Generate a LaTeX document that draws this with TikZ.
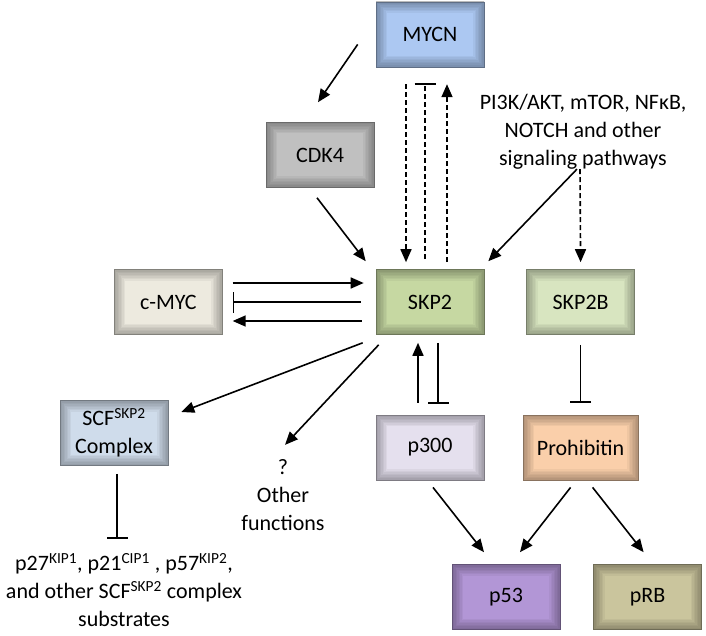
\documentclass[tikz,border=0pt]{standalone}
\usepackage{fontspec}
\setmainfont{Carlito}
\usetikzlibrary{arrows.meta,positioning,calc}

\definecolor{mycncol}{RGB}{172,200,242}
\definecolor{cdkcol}{RGB}{192,192,192}
\definecolor{cmyccol}{RGB}{237,234,223}
\definecolor{skpcol}{RGB}{198,216,162}
\definecolor{skpbcol}{RGB}{216,229,192}
\definecolor{scfcol}{RGB}{207,220,235}
\definecolor{pthreecol}{RGB}{229,224,238}
\definecolor{phbcol}{RGB}{250,207,170}
\definecolor{pfiftycol}{RGB}{178,150,214}
\definecolor{prbcol}{RGB}{202,197,157}

\tikzset{
  gene/.style={rectangle, minimum width=108pt, minimum height=65pt, fill=#1,
    draw=#1!55!black, line width=0.6pt, align=center,
    font=\fontsize{22}{28}\selectfont,
    path picture={\foreach \w in {22,19,...,4}
      {\draw[line width=\w pt, black, opacity=0.045] (path picture bounding box.south west) rectangle (path picture bounding box.north east);}}},
  txt/.style={align=center, font=\fontsize{22}{28}\selectfont},
  act/.style={-{Triangle[length=13pt,width=11pt]}, line width=1.6pt},
  inh/.style={-{Bar[width=21pt]}, line width=1.6pt},
  dashlink/.style={dash pattern=on 5pt off 3pt}
}

\begin{document}
\begin{tikzpicture}[x=1pt, y=-1pt]
    \useasboundingbox (0,0) rectangle (706,636);

    \node (skp2) [gene=skpcol] at (430,302) {SKP2};
    \node (mycn) [gene=mycncol, above=202pt of skp2] {MYCN};
    \node (cdk4) [gene=cdkcol] at (320,155) {CDK4};
    \node (cmyc) [gene=cmyccol, left=153pt of skp2] {c-MYC};
    \node (skp2b) [gene=skpbcol, right=42pt of skp2] {SKP2B};
    \node (p300) [gene=pthreecol, below=80pt of skp2] {p300};
    \node (phb) [gene=phbcol, minimum width=115pt, below=80pt of skp2b] {Prohibitin};
    \node (scf) [gene=scfcol] at (114,433) {SCF\textsuperscript{SKP2}\\Complex};
    \node (p53) [gene=pfiftycol] at (506,597) {p53};
    \node (prb) [gene=prbcol, right=33pt of p53] {pRB};
    \node (sig) [txt] at (583,132) {PI3K/AKT, mTOR, NFκB,\\NOTCH and other\\signaling pathways};
    \node (other) [txt] at (283,495) {?\\Other\\functions};
    \node (subs) [txt] at (124,590) {p27\textsuperscript{KIP1}, p21\textsuperscript{CIP1} , p57\textsuperscript{KIP2},\\and other SCF\textsuperscript{SKP2} complex\\substrates};

    \draw [act] ($(mycn.west)+(-18,10)$) -- ($(cdk4.north)+(-2,-20)$);
    \draw [act] ($(cdk4.south)+(-3,10)$) -- ($(skp2.north west)+(-10,-8)$);
    \draw [act, dashlink] ($(mycn.south)+(-24,17)$) -- ($(skp2.north)+(-24,-7)$);
    \draw [inh, dashlink] ($(skp2.north)+(-5,-10)$) -- ($(mycn.south)+(-5,16)$);
    \draw [act, dashlink] ($(skp2.north)+(17,-7)$) -- ($(mycn.south)+(17,17)$);
    \draw [act] ($(sig.south)+(-6,-4)$) -- ($(skp2.north east)+(4,-8)$);
    \draw [act, dashlink] ($(sig.south)+(-3,-4)$) -- ($(skp2b.north)+(0,-7)$);

    \draw [act] ($(cmyc.east)+(10,-19)$) -- ($(skp2.west)+(-12,-19)$);
    \draw [inh] ($(skp2.west)+(-15,0)$) -- ($(cmyc.east)+(10,0)$);
    \draw [act] ($(skp2.west)+(-14,19)$) -- ($(cmyc.east)+(10,19)$);

    \draw [act] ($(skp2.south west)+(-13,8)$) -- ($(scf.east)+(13,-21)$);
    \draw [act] ($(skp2.south west)+(3,10)$) -- ($(other.north)+(2,-11)$);
    \draw [act] ($(p300.north)+(-12,-12)$) -- ($(skp2.south)+(-12,8)$);
    \draw [inh] ($(skp2.south)+(8,8)$) -- ($(p300.north)+(8,-11)$);
    \draw [inh] ($(skp2b.south)+(0,10)$) -- ($(phb.north)+(0,-12)$);
    \draw [inh] ($(scf.south)+(3,8)$) -- ($(subs.north)+(-7,-11)$);

    \draw [act] ($(p300.south)+(3,7)$) -- ($(p53.north)+(-22,-12)$);
    \draw [act] ($(phb.south)+(-10,7)$) -- ($(p53.north)+(14,-12)$);
    \draw [act] ($(phb.south)+(12,7)$) -- ($(prb.north)+(-4,-12)$);
\end{tikzpicture}
\end{document}
